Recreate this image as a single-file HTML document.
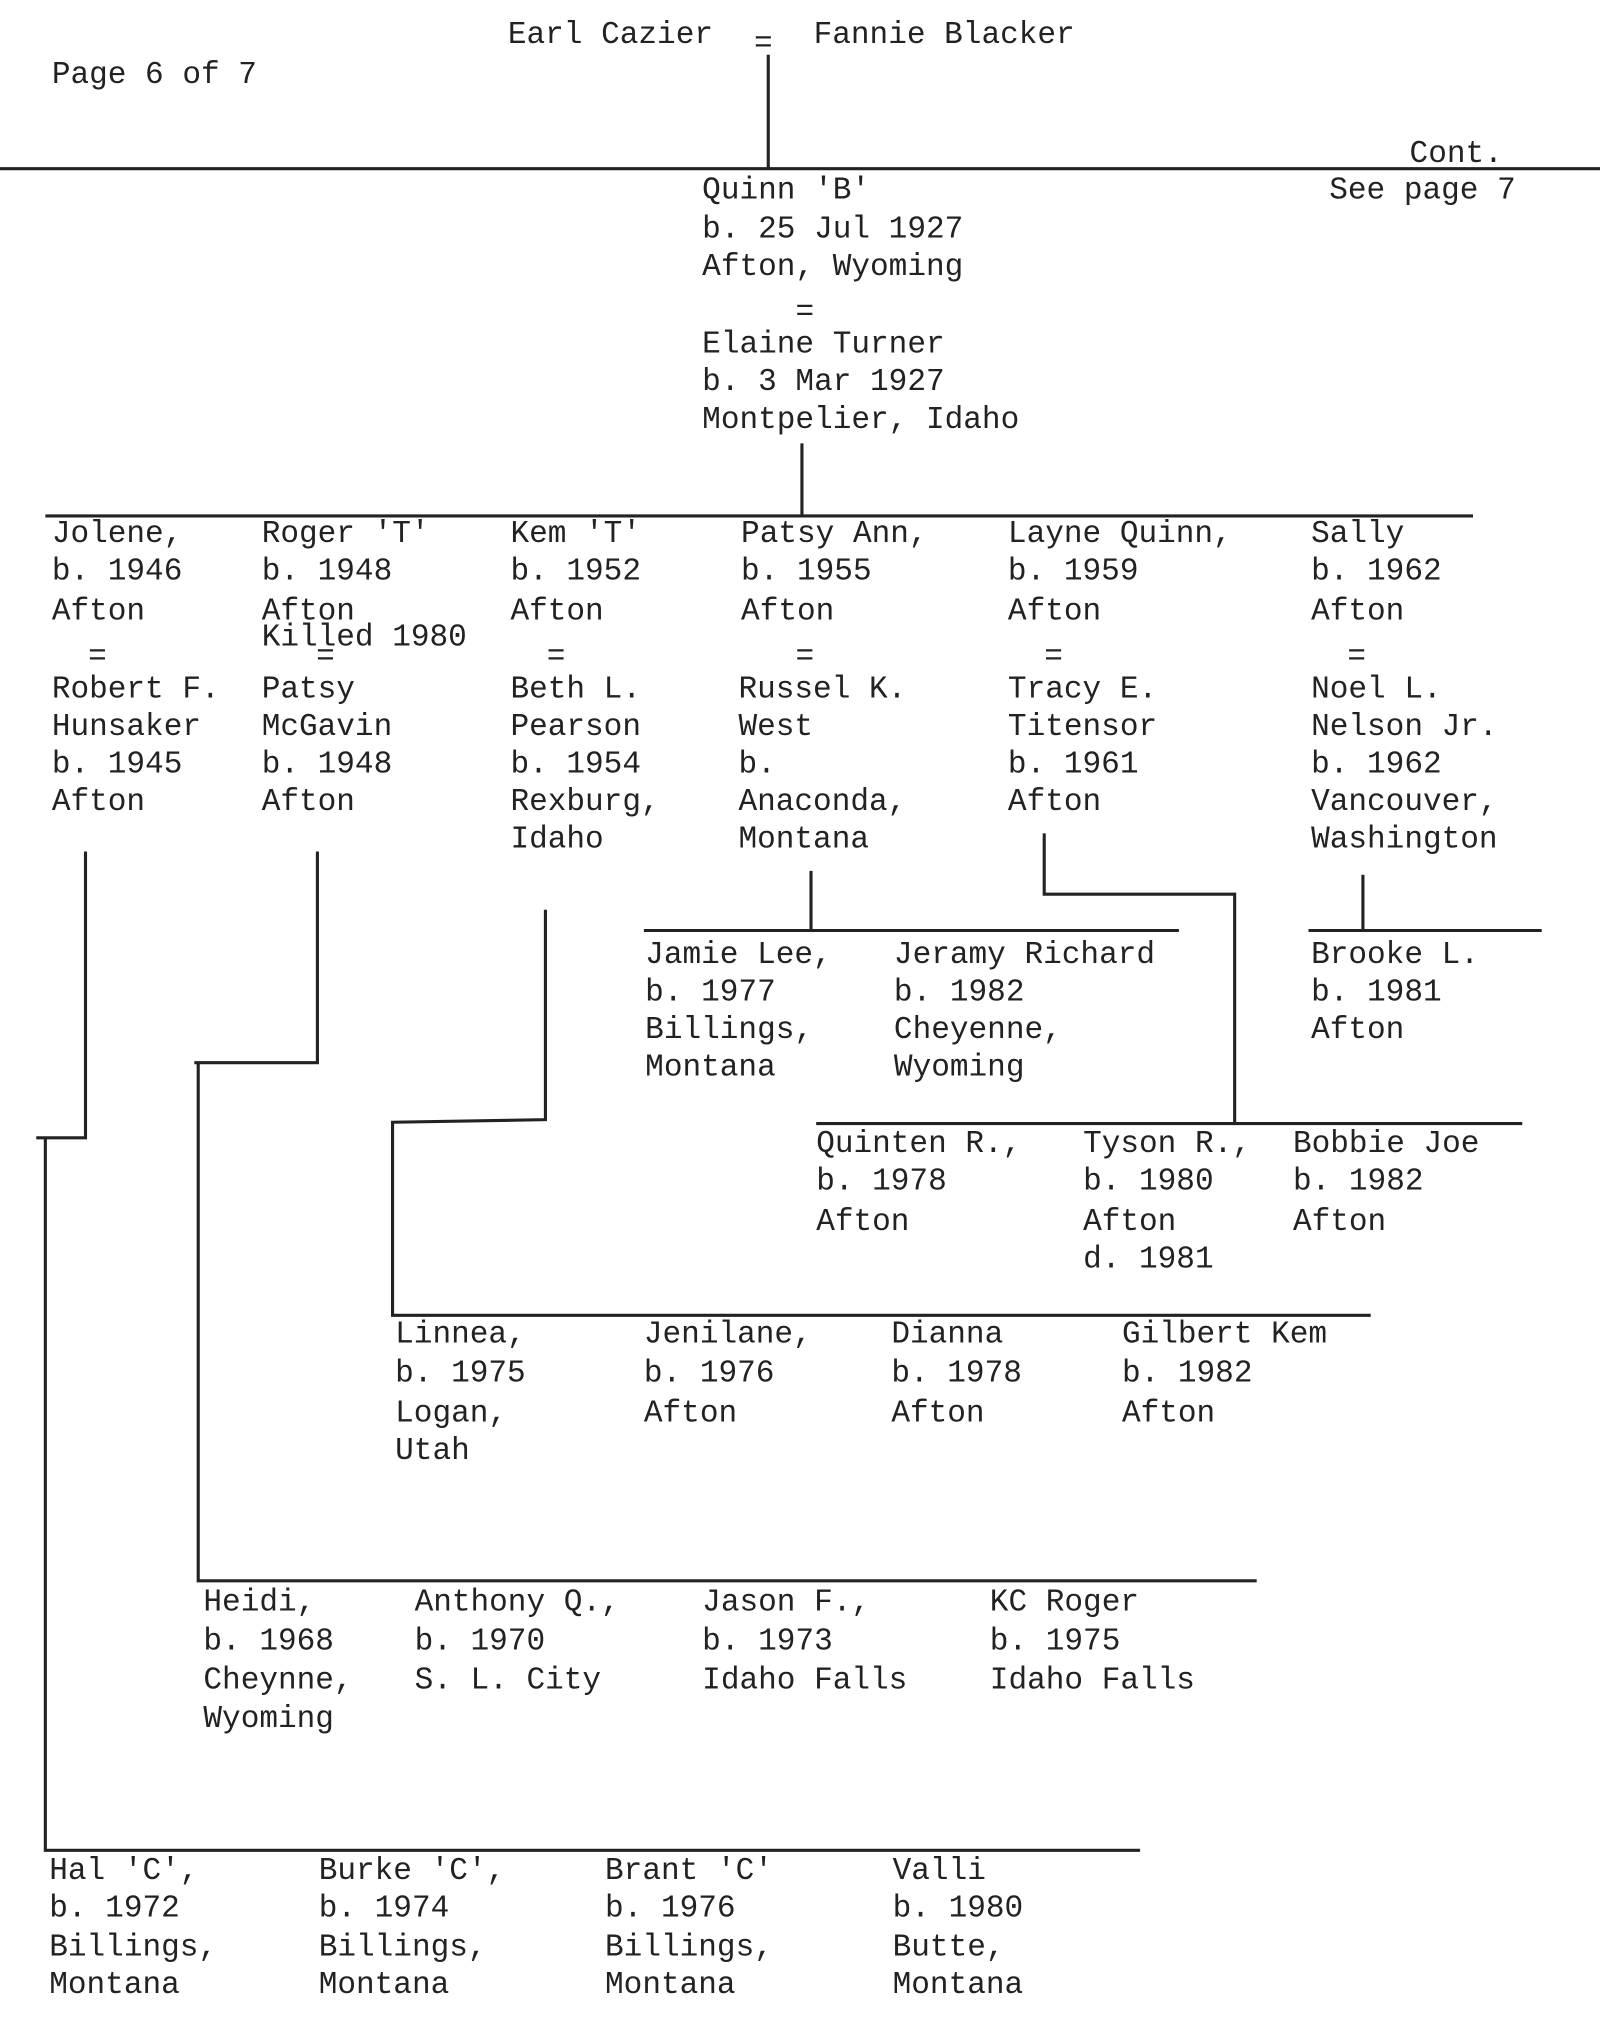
<!DOCTYPE html>
<html><head><meta charset="utf-8"><style>
html,body{margin:0;padding:0;background:#fff;}
svg{display:block}
text{font-family:"Liberation Mono","DejaVu Sans Mono",monospace;font-size:24px;fill:#222;}
line,polyline{stroke:#222;stroke-width:2.4;fill:none}
</style></head><body>
<svg width="1600" height="2032" viewBox="0 0 1235 1568" xmlns="http://www.w3.org/2000/svg">
<text x="392" y="33">Earl Cazier</text>
<text x="582" y="40">=</text>
<text x="628" y="33">Fannie Blacker</text>
<text x="40" y="64">Page 6 of 7</text>
<line x1="593" y1="42" x2="593" y2="130"/>
<line x1="0" y1="130" x2="1235" y2="130"/>
<text x="1088" y="125">Cont.</text>
<text x="1026" y="153">See page 7</text>
<text x="542" y="153">Quinn 'B'</text>
<text x="542" y="183">b. 25 Jul 1927</text>
<text x="542" y="212">Afton, Wyoming</text>
<text x="614" y="247">=</text>
<text x="542" y="272">Elaine Turner</text>
<text x="542" y="301">b. 3 Mar 1927</text>
<text x="542" y="330">Montpelier, Idaho</text>
<line x1="619" y1="342" x2="619" y2="398"/>
<line x1="35" y1="398" x2="1137" y2="398"/>

<g>
<text x="40" y="418">Jolene,</text><text x="40" y="447">b. 1946</text><text x="40" y="478">Afton</text>
<text x="68" y="513">=</text>
<text x="40" y="538">Robert F.</text><text x="40" y="567">Hunsaker</text><text x="40" y="596">b. 1945</text><text x="40" y="625">Afton</text>

<text x="202" y="418">Roger 'T'</text><text x="202" y="447">b. 1948</text><text x="202" y="478">Afton</text><text x="202" y="498">Killed 1980</text>
<text x="244" y="513">=</text>
<text x="202" y="538">Patsy</text><text x="202" y="567">McGavin</text><text x="202" y="596">b. 1948</text><text x="202" y="625">Afton</text>

<text x="394" y="418">Kem 'T'</text><text x="394" y="447">b. 1952</text><text x="394" y="478">Afton</text>
<text x="422" y="513">=</text>
<text x="394" y="538">Beth L.</text><text x="394" y="567">Pearson</text><text x="394" y="596">b. 1954</text><text x="394" y="625">Rexburg,</text><text x="394" y="654">Idaho</text>

<text x="572" y="418">Patsy Ann,</text><text x="572" y="447">b. 1955</text><text x="572" y="478">Afton</text>
<text x="614" y="513">=</text>
<text x="570" y="538">Russel K.</text><text x="570" y="567">West</text><text x="570" y="596">b.</text><text x="570" y="625">Anaconda,</text><text x="570" y="654">Montana</text>

<text x="778" y="418">Layne Quinn,</text><text x="778" y="447">b. 1959</text><text x="778" y="478">Afton</text>
<text x="806" y="513">=</text>
<text x="778" y="538">Tracy E.</text><text x="778" y="567">Titensor</text><text x="778" y="596">b. 1961</text><text x="778" y="625">Afton</text>

<text x="1012" y="418">Sally</text><text x="1012" y="447">b. 1962</text><text x="1012" y="478">Afton</text>
<text x="1040" y="513">=</text>
<text x="1012" y="538">Noel L.</text><text x="1012" y="567">Nelson Jr.</text><text x="1012" y="596">b. 1962</text><text x="1012" y="625">Vancouver,</text><text x="1012" y="654">Washington</text>
</g>

<polyline points="66,657 66,878 28,878"/>
<polyline points="35,878 35,1428 880,1428"/>
<polyline points="245,657 245,820 150,820"/>
<polyline points="153,820 153,1220 970,1220"/>
<polyline points="421,702 421,864 303,866 303,1015 1058,1015"/>
<line x1="626" y1="672" x2="626" y2="718"/>
<line x1="497" y1="718" x2="910" y2="718"/>
<polyline points="806,643 806,690 953,690 953,867"/>
<line x1="630" y1="867" x2="1175" y2="867"/>
<line x1="1052" y1="675" x2="1052" y2="718"/>
<line x1="1010" y1="718" x2="1190" y2="718"/>

<text x="498" y="743">Jamie Lee,</text><text x="498" y="772">b. 1977</text><text x="498" y="801">Billings,</text><text x="498" y="830">Montana</text>
<text x="690" y="743">Jeramy Richard</text><text x="690" y="772">b. 1982</text><text x="690" y="801">Cheyenne,</text><text x="690" y="830">Wyoming</text>
<text x="1012" y="743">Brooke L.</text><text x="1012" y="772">b. 1981</text><text x="1012" y="801">Afton</text>

<text x="630" y="889">Quinten R.,</text><text x="630" y="918">b. 1978</text><text x="630" y="949">Afton</text>
<text x="836" y="889">Tyson R.,</text><text x="836" y="918">b. 1980</text><text x="836" y="949">Afton</text><text x="836" y="978">d. 1981</text>
<text x="998" y="889">Bobbie Joe</text><text x="998" y="918">b. 1982</text><text x="998" y="949">Afton</text>

<text x="305" y="1036">Linnea,</text><text x="305" y="1066">b. 1975</text><text x="305" y="1097">Logan,</text><text x="305" y="1126">Utah</text>
<text x="497" y="1036">Jenilane,</text><text x="497" y="1066">b. 1976</text><text x="497" y="1097">Afton</text>
<text x="688" y="1036">Dianna</text><text x="688" y="1066">b. 1978</text><text x="688" y="1097">Afton</text>
<text x="866" y="1036">Gilbert Kem</text><text x="866" y="1066">b. 1982</text><text x="866" y="1097">Afton</text>

<text x="157" y="1243">Heidi,</text><text x="157" y="1273">b. 1968</text><text x="157" y="1303">Cheynne,</text><text x="157" y="1333">Wyoming</text>
<text x="320" y="1243">Anthony Q.,</text><text x="320" y="1273">b. 1970</text><text x="320" y="1303">S. L. City</text>
<text x="542" y="1243">Jason F.,</text><text x="542" y="1273">b. 1973</text><text x="542" y="1303">Idaho Falls</text>
<text x="764" y="1243">KC Roger</text><text x="764" y="1273">b. 1975</text><text x="764" y="1303">Idaho Falls</text>

<text x="38" y="1450">Hal 'C',</text><text x="38" y="1479">b. 1972</text><text x="38" y="1509">Billings,</text><text x="38" y="1538">Montana</text>
<text x="246" y="1450">Burke 'C',</text><text x="246" y="1479">b. 1974</text><text x="246" y="1509">Billings,</text><text x="246" y="1538">Montana</text>
<text x="467" y="1450">Brant 'C'</text><text x="467" y="1479">b. 1976</text><text x="467" y="1509">Billings,</text><text x="467" y="1538">Montana</text>
<text x="689" y="1450">Valli</text><text x="689" y="1479">b. 1980</text><text x="689" y="1509">Butte,</text><text x="689" y="1538">Montana</text>
</svg>
</body></html>
